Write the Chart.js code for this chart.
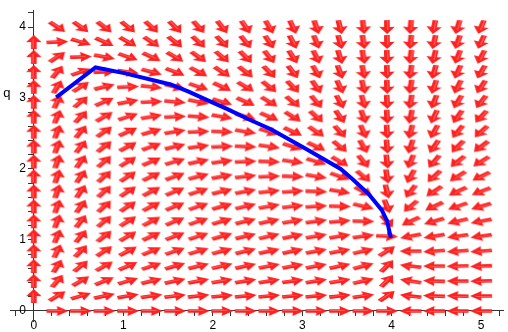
<!DOCTYPE html>
<html>
<head>
<meta charset="utf-8">
<script src="https://cdn.jsdelivr.net/npm/chart.js@4"></script>
<style>
  html, body { margin: 0; padding: 0; background: #fff; }
  #wrap { width: 508px; height: 332px; }
</style>
</head>
<body>
<div id="wrap"><canvas id="chartField"></canvas></div>
<script>
// grid where the direction arrows sit
const pGrid = [0, 0.263, 0.526, 0.789, 1.053, 1.316, 1.579, 1.842, 2.105, 2.368,
               2.632, 2.895, 3.158, 3.421, 3.684, 3.947, 4.211, 4.474, 4.737, 5];
const qGrid = [0, 0.211, 0.421, 0.632, 0.842, 1.053, 1.263, 1.474, 1.684, 1.895,
               2.105, 2.316, 2.526, 2.737, 2.947, 3.158, 3.368, 3.579, 3.789, 4];

// arrow direction on screen (degrees, counter-clockwise, 0 = right), one row per q value
const fieldAngles = [
  [null, 0, 0, 0, 0, 0, 0, 0, 0, 0, 0, 0, 0, 0, 0, 0, 180, 180, 180, 180],
  [90, 31, 17, 12, 9, 8, 7, 6, 5, 5, 5, 5, 5, 6, 8, 34, 173, 178, 179, 180],
  [90, 49, 30, 22, 17, 14, 12, 11, 10, 9, 9, 8, 9, 10, 13, 45, 171, 178, 180, -179],
  [90, 58, 39, 29, 23, 19, 16, 14, 13, 12, 11, 11, 11, 12, 15, 44, 173, 180, -179, -178],
  [90, 64, 45, 34, 27, 22, 19, 17, 15, 14, 12, 12, 11, 11, 13, 32, 180, -176, -176, -176],
  [90, 67, 50, 38, 30, 25, 21, 18, 16, 14, 13, 12, 10, 9, 8, -3, -169, -171, -172, -172],
  [90, 69, 52, 40, 32, 27, 22, 19, 16, 14, 12, 10, 8, 5, -1, -47, -155, -164, -167, -169],
  [90, 70, 54, 42, 33, 27, 22, 19, 16, 13, 10, 7, 4, -1, -13, -68, -140, -155, -161, -164],
  [90, 71, 55, 42, 33, 27, 22, 18, 14, 11, 7, 4, -2, -10, -27, -76, -128, -147, -155, -159],
  [90, 71, 55, 42, 33, 26, 20, 15, 11, 7, 3, -2, -9, -19, -40, -81, -119, -138, -148, -154],
  [90, 71, 54, 41, 31, 23, 17, 12, 8, 3, -2, -8, -17, -30, -51, -83, -113, -131, -142, -148],
  [90, 70, 52, 38, 28, 20, 14, 8, 3, -3, -8, -16, -25, -39, -60, -85, -108, -125, -135, -143],
  [90, 69, 50, 35, 24, 16, 9, 3, -3, -9, -16, -24, -34, -48, -66, -86, -105, -119, -130, -138],
  [90, 67, 46, 30, 18, 10, 3, -4, -10, -16, -23, -32, -42, -55, -70, -87, -102, -115, -125, -133],
  [90, 64, 40, 23, 11, 3, -5, -11, -17, -24, -31, -39, -49, -61, -74, -87, -100, -111, -121, -128],
  [90, 59, 32, 14, 3, -6, -13, -19, -25, -31, -38, -46, -55, -65, -76, -88, -99, -109, -117, -124],
  [90, 50, 19, 2, -8, -15, -21, -27, -33, -38, -45, -52, -60, -69, -79, -88, -98, -106, -114, -121],
  [90, 33, 2, -11, -19, -25, -30, -35, -40, -45, -51, -57, -64, -72, -80, -88, -97, -104, -111, -118],
  [90, 3, -17, -24, -29, -34, -38, -42, -46, -51, -56, -62, -68, -74, -81, -89, -96, -103, -109, -115],
  [null, -33, -35, -37, -39, -42, -45, -48, -52, -56, -60, -65, -71, -76, -83, -89, -95, -101, -107, -113]
];

// solution curve
const curveP = [0.25, 0.69, 1.01, 1.53, 1.73, 1.92, 2.17, 2.40, 2.65, 3.02, 3.43, 3.56, 3.74, 3.89, 3.95, 3.99];
const curveQ = [3.01, 3.43, 3.35, 3.19, 3.09, 2.98, 2.84, 2.70, 2.56, 2.30, 2.00, 1.86, 1.65, 1.42, 1.26, 1.03];

// axis ticks
const xTicks = [-0.2, 0, 0.2, 0.4, 0.6, 0.8, 1, 1.2, 1.4, 1.6, 1.8, 2, 2.2, 2.4, 2.6, 2.8,
                3, 3.2, 3.4, 3.6, 3.8, 4, 4.2, 4.4, 4.6, 4.8, 5, 5.2];
const yTicks = [0, 0.2, 0.4, 0.6, 0.8, 1, 1.2, 1.4, 1.6, 1.8, 2, 2.2, 2.4, 2.6, 2.8,
                3, 3.2, 3.4, 3.6, 3.8, 4, 4.2];

const arrowPoints = [];
qGrid.forEach((q, j) => {
    pGrid.forEach((p, k) => {
        const a = fieldAngles[j][k];
        if (a !== null) arrowPoints.push({ x: p, y: q, a: a });
    });
});

const curvePoints = curveP.map((p, i) => ({ x: p, y: curveQ[i] }));

const isWhole = v => Math.abs(v - Math.round(v)) < 1e-6;
const FONT = '"Liberation Sans", Arial, sans-serif';

// arrow drawn in grid-cell units, then stretched to the cell size in pixels
function arrowImage(chart, deg) {
    const xs = chart.scales.x, ys = chart.scales.y;
    const cw = Math.abs(xs.getPixelForValue(pGrid[1]) - xs.getPixelForValue(pGrid[0]));
    const ch = Math.abs(ys.getPixelForValue(qGrid[1]) - ys.getPixelForValue(qGrid[0]));
    const t = deg * Math.PI / 180;
    const phi = Math.atan2(Math.sin(t) / ch, Math.cos(t) / cw);
    const c = document.createElement("canvas");
    c.width = 40; c.height = 40;
    const g = c.getContext("2d");
    g.setTransform(cw, 0, 0, -ch, 20, 20);
    g.rotate(phi);
    g.beginPath();
    g.moveTo(-0.46, -0.12);
    g.lineTo(0.0, -0.12);
    g.lineTo(-0.02, -0.33);
    g.lineTo(0.47, 0);
    g.lineTo(-0.02, 0.33);
    g.lineTo(0.0, 0.12);
    g.lineTo(-0.46, 0.12);
    g.closePath();
    g.fillStyle = "#ff2020";
    g.fill();
    // lighter streak along the shaft
    g.beginPath();
    g.moveTo(-0.42, 0.03);
    g.lineTo(0.2, 0.03);
    g.lineWidth = 0.06;
    g.strokeStyle = "rgba(255,120,120,0.7)";
    g.stroke();
    return c;
}

// push the vertical axis labels left of the tick marks
const yLabelShift = {
    id: "yLabelShift",
    beforeDraw(chart) {
        const y = chart.scales.y;
        y.getLabelItems(chart.chartArea).forEach(item => {
            if (!item._shifted) {
                item.options.translation[0] -= 8;
                item._shifted = true;
            }
        });
    }
};

const axisLabel = {
    id: "axisLabel",
    afterDraw(chart) {
        const { ctx, scales: { x, y } } = chart;
        ctx.save();
        ctx.font = "13px " + FONT;
        ctx.fillStyle = "#000";
        ctx.textAlign = "center";
        ctx.textBaseline = "middle";
        ctx.fillText("q", x.getPixelForValue(0) - 27, y.getPixelForValue(3.07));
        ctx.restore();
    }
};

new Chart(document.getElementById("chartField"), {
    type: "scatter",
    data: {
        datasets: [
            {
                label: "curve",
                data: curvePoints,
                showLine: true,
                borderColor: "#0000ff",
                borderWidth: 4,
                pointRadius: 0,
                tension: 0,
                order: 0
            },
            {
                label: "field",
                data: arrowPoints,
                pointRadius: 1,
                pointStyle: ctx => arrowImage(ctx.chart, ctx.raw.a),
                order: 1
            }
        ]
    },
    options: {
        responsive: true,
        maintainAspectRatio: false,
        animation: false,
        layout: { padding: { left: 10, top: 8, right: 1, bottom: 9 } },
        plugins: { legend: { display: false }, tooltip: { enabled: false } },
        scales: {
            x: {
                type: "linear",
                min: -0.266,
                max: 5.244,
                position: { y: 0 },
                afterBuildTicks: s => { s.ticks = xTicks.map(v => ({ value: v })); },
                grid: { drawOnChartArea: false, tickLength: 5, color: "#333" },
                border: { color: "#333" },
                ticks: {
                    autoSkip: false,
                    maxRotation: 0,
                    color: "#000",
                    font: { family: FONT, size: 12 },
                    callback: v => isWhole(v) ? String(Math.round(v)) : ""
                }
            },
            y: {
                type: "linear",
                min: -0.153,
                max: 4.237,
                position: { x: 0 },
                afterBuildTicks: s => { s.ticks = yTicks.map(v => ({ value: v })); },
                grid: { drawOnChartArea: false, tickLength: 5, color: "#333" },
                border: { color: "#333" },
                ticks: {
                    autoSkip: false,
                    color: "#000",
                    font: { family: FONT, size: 12 },
                    callback: v => isWhole(v) ? String(Math.round(v)) : ""
                }
            }
        }
    },
    plugins: [yLabelShift, axisLabel]
});
</script>
</body>
</html>
